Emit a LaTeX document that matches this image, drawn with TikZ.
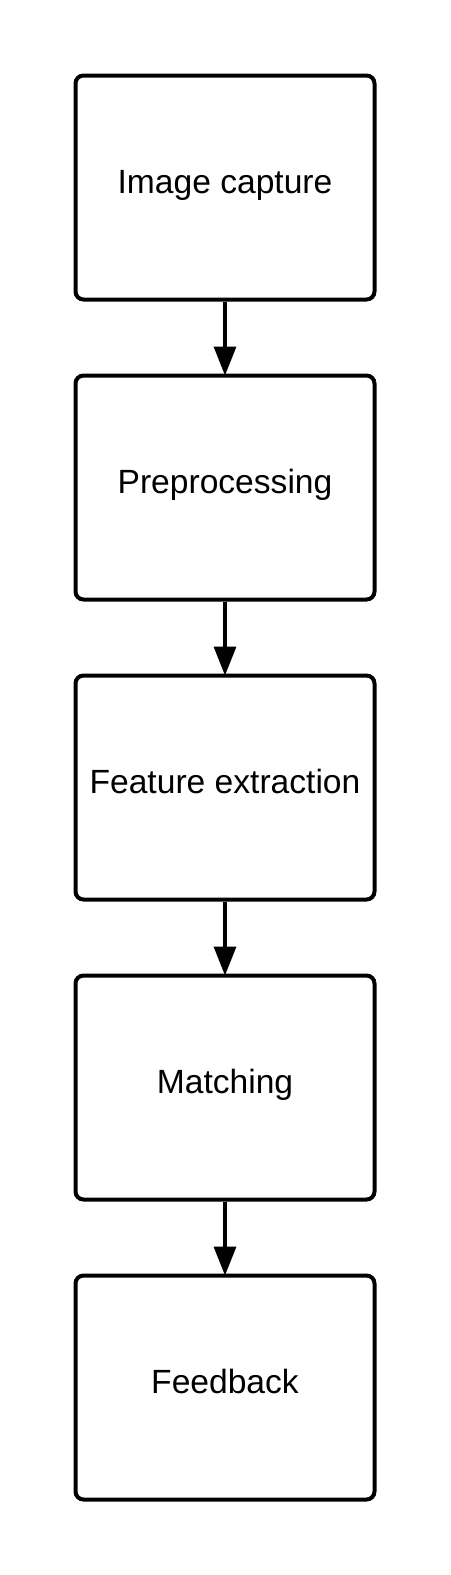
\documentclass[tikz,border=0pt]{standalone}
\usepackage{fontspec}
\setmainfont{Liberation Sans}
\usetikzlibrary{arrows.meta}
\begin{document}
\begin{tikzpicture}[x=0.75pt,y=-0.75pt,
  stagebox/.style={draw=black,line width=3pt,rounded corners=6pt,fill=white,
    minimum width=224.25pt,minimum height=168pt,inner sep=0pt,
    font=\fontsize{25.2}{30}\selectfont,text height=18.7pt,text depth=10pt},
  flow/.style={line width=2.6pt,shorten >=-1.5pt,-{Triangle[length=21.75pt,width=16.5pt]}}]
\useasboundingbox (0,0) rectangle (450,1575);
\node[stagebox] (s1) at (225,187.5) {Image capture};
\node[stagebox] (s2) at (225,487.5) {Preprocessing};
\node[stagebox] (s3) at (225,787.5) {Feature extraction};
\node[stagebox] (s4) at (225,1087.5) {Matching};
\node[stagebox] (s5) at (225,1387.5) {Feedback};
\draw[flow] (s1.south) -- (s2.north);
\draw[flow] (s2.south) -- (s3.north);
\draw[flow] (s3.south) -- (s4.north);
\draw[flow] (s4.south) -- (s5.north);
\end{tikzpicture}
\end{document}
